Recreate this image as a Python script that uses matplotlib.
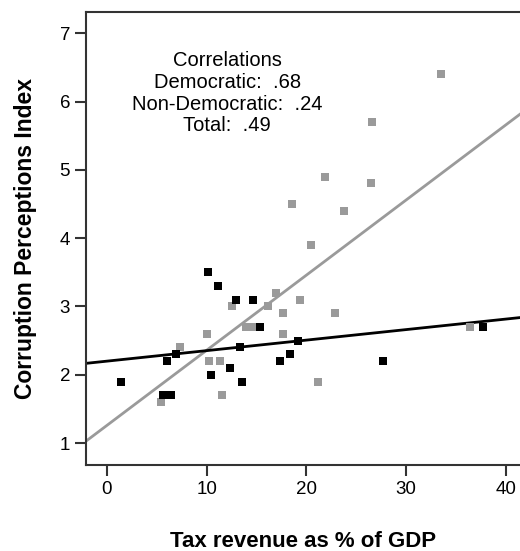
import numpy as np
import matplotlib.pyplot as plt

plt.rcParams['font.family'] = ['Liberation Sans', 'DejaVu Sans']

# democratic countries (grey squares)
dem_tax = [33.5, 26.6, 21.9, 26.5, 18.5, 23.8, 20.5, 16.9, 12.5, 16.1, 19.3, 17.6,
           22.9, 13.9, 14.6, 10.0, 17.6, 7.3, 10.25, 11.3, 21.2, 11.5, 5.4, 36.4]
dem_cpi = [6.4, 5.7, 4.9, 4.8, 4.5, 4.4, 3.9, 3.2, 3.0, 3.0, 3.1, 2.9,
           2.9, 2.7, 2.7, 2.6, 2.6, 2.4, 2.2, 2.2, 1.9, 1.7, 1.6, 2.7]
# non-democratic countries (black squares)
non_tax = [1.4, 6.0, 5.6, 6.4, 6.9, 10.1, 11.1, 12.9, 14.6, 15.3, 10.45, 12.3,
           13.5, 13.3, 17.3, 18.3, 19.1, 27.7, 37.7]
non_cpi = [1.9, 2.2, 1.7, 1.7, 2.3, 3.5, 3.3, 3.1, 3.1, 2.7, 2.0, 2.1,
           1.9, 2.4, 2.2, 2.3, 2.5, 2.2, 2.7]

# fit lines (intercept, slope) as drawn
dem_fit = (1.26, 0.110)
non_fit = (2.20, 0.0154)

x_ticks = [0, 10, 20, 30, 40]
y_ticks = [1, 2, 3, 4, 5, 6, 7]
note = "Correlations\nDemocratic:  .68\nNon-Democratic:  .24\nTotal:  .49"

grey = '#9a9a9a'

fig = plt.figure(figsize=(5.2, 5.51), dpi=100)
ax = fig.add_axes([86 / 520, 1 - 465 / 551, 1 - 86 / 520, (465 - 12) / 551])
ax.set_xlim(-2.1, 41.4)
ax.set_ylim(0.68, 7.31)

xx = np.array(ax.get_xlim())
ax.plot(xx, dem_fit[0] + dem_fit[1] * xx, color=grey, lw=2, zorder=2)
ax.plot(xx, non_fit[0] + non_fit[1] * xx, color='black', lw=2, zorder=2)

ax.scatter(dem_tax, dem_cpi, marker='s', s=26, color=grey, linewidths=0, zorder=3)
ax.scatter(non_tax, non_cpi, marker='s', s=26, color='black', linewidths=0, zorder=4)

ax.text(12.07, 6.12, note, ha='center', va='center', fontsize=14.5, linespacing=1.17)

ax.set_xticks(x_ticks)
ax.set_yticks(y_ticks)
ax.tick_params(direction='out', length=8, width=1.5, pad=3.5, labelsize=13.5, color='#333333')
ax.spines['right'].set_visible(False)
for s in ['left', 'bottom', 'top']:
    ax.spines[s].set_linewidth(1.5)
    ax.spines[s].set_color('#333333')

ax.set_xlabel('Tax revenue as % of GDP', fontsize=16, fontweight='bold', labelpad=24)
ax.set_ylabel('Corruption Perceptions Index', fontsize=16.5, fontweight='bold', labelpad=16)

fig.savefig('out.png', dpi=100)
